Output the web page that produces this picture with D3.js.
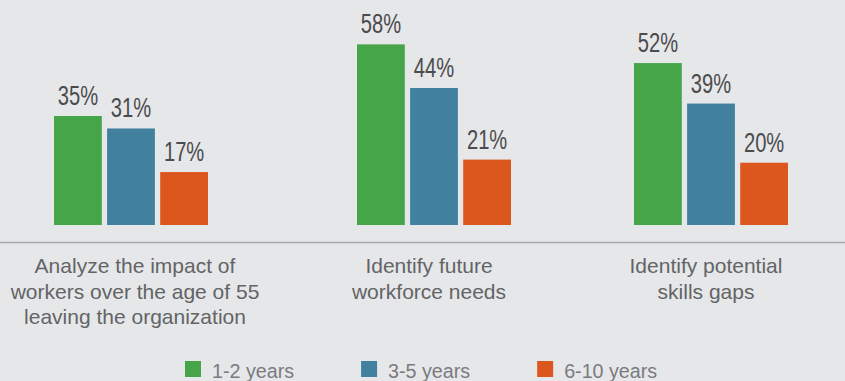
<!DOCTYPE html>
<html>
<head>
<meta charset="utf-8">
<script src="https://cdn.jsdelivr.net/npm/d3@7"></script>
<style>
  html, body { margin: 0; padding: 0; background: #e6e7e9; }
  svg { display: block; }
  .val { font-family: "Liberation Sans", Arial, sans-serif; fill: #4b4b4d; }
  .cat { font-family: "Liberation Sans", Arial, sans-serif; fill: #636466; }
  .leg { font-family: "Liberation Sans", Arial, sans-serif; fill: #7a7b7e; }
</style>
</head>
<body>
<svg id="chart" width="845" height="381"></svg>
<script>
// Survey categories (one group of bars per category)
const categories = [
  "Analyze the impact of workers over the age of 55 leaving the organization",
  "Identify future workforce needs",
  "Identify potential skills gaps"
];
// Wrapped label lines for each category
const categoryLines = [
  ["Analyze the impact of", "workers over the age of 55", "leaving the organization"],
  ["Identify future", "workforce needs"],
  ["Identify potential", "skills gaps"]
];
// Time horizons (series)
const seriesNames = ["1-2 years", "3-5 years", "6-10 years"];
const seriesColors = ["#46a449", "#41809f", "#dc571e"];
// Percentages per series, in category order
const shortTerm = [35, 58, 52];
const midTerm = [31, 44, 39];
const longTerm = [17, 21, 20];
const seriesValues = [shortTerm, midTerm, longTerm];

const svg = d3.select("#chart");
const W = 845, H = 381;

// Horizontal layout: group centres per category, bars within a group
const x0 = d3.scaleOrdinal().domain(categories).range([131, 434, 711]);
const xLabel = d3.scaleOrdinal().domain(categories).range([135, 429, 706]);
const groupWidth = 154;
const x1 = d3.scaleBand().domain(seriesNames).range([-groupWidth / 2, groupWidth / 2]).paddingInner(0.1).paddingOuter(0);

// Vertical scale (percent)
const y = d3.scaleLinear().domain([0, 58]).range([225, 44.4]);

const rows = categories.map((c, ci) => ({
  cat: c,
  bars: seriesNames.map((s, si) => ({ series: s, color: seriesColors[si], value: seriesValues[si][ci] }))
}));

const groups = svg.selectAll("g.group").data(rows).join("g")
  .attr("class", "group")
  .attr("transform", d => `translate(${x0(d.cat)},0)`);

groups.selectAll("rect").data(d => d.bars).join("rect")
  .attr("x", d => x1(d.series))
  .attr("width", x1.bandwidth())
  .attr("y", d => y(d.value))
  .attr("height", d => y(0) - y(d.value))
  .attr("fill", d => d.color);

// Value labels, drawn in a condensed style
groups.selectAll("text.val").data(d => d.bars).join("text")
  .attr("class", "val")
  .attr("transform", d => `translate(${x1(d.series) + x1.bandwidth() / 2},${y(d.value) - 11}) scale(0.72,1)`)
  .attr("text-anchor", "middle")
  .attr("font-size", 28)
  .text(d => d.value + "%");

// Baseline
svg.append("line")
  .attr("x1", 0).attr("x2", W)
  .attr("y1", 242.5).attr("y2", 242.5)
  .attr("stroke", "#a7a9ac").attr("stroke-width", 1.5);

// Category labels
const labels = svg.selectAll("text.cat").data(rows).join("text")
  .attr("class", "cat")
  .attr("text-anchor", "middle")
  .attr("font-size", 21);
labels.each(function(d, i) {
  d3.select(this).selectAll("tspan").data(categoryLines[i]).join("tspan")
    .attr("x", xLabel(d.cat))
    .attr("y", (l, j) => 273 + j * 25.5)
    .text(l => l);
});

// Legend
const legend = svg.append("g").attr("transform", "translate(185,0)");
let lx = 0;
seriesNames.forEach((s, i) => {
  const item = legend.append("g").attr("transform", `translate(${lx},0)`);
  item.append("rect").attr("x", 0).attr("y", 361).attr("width", 16).attr("height", 16).attr("fill", seriesColors[i]);
  const t = item.append("text").attr("class", "leg").attr("x", 27).attr("y", 378)
    .attr("font-size", 19.7).text(s);
  lx += 27 + t.node().getComputedTextLength() + 67;
});
</script>
</body>
</html>
